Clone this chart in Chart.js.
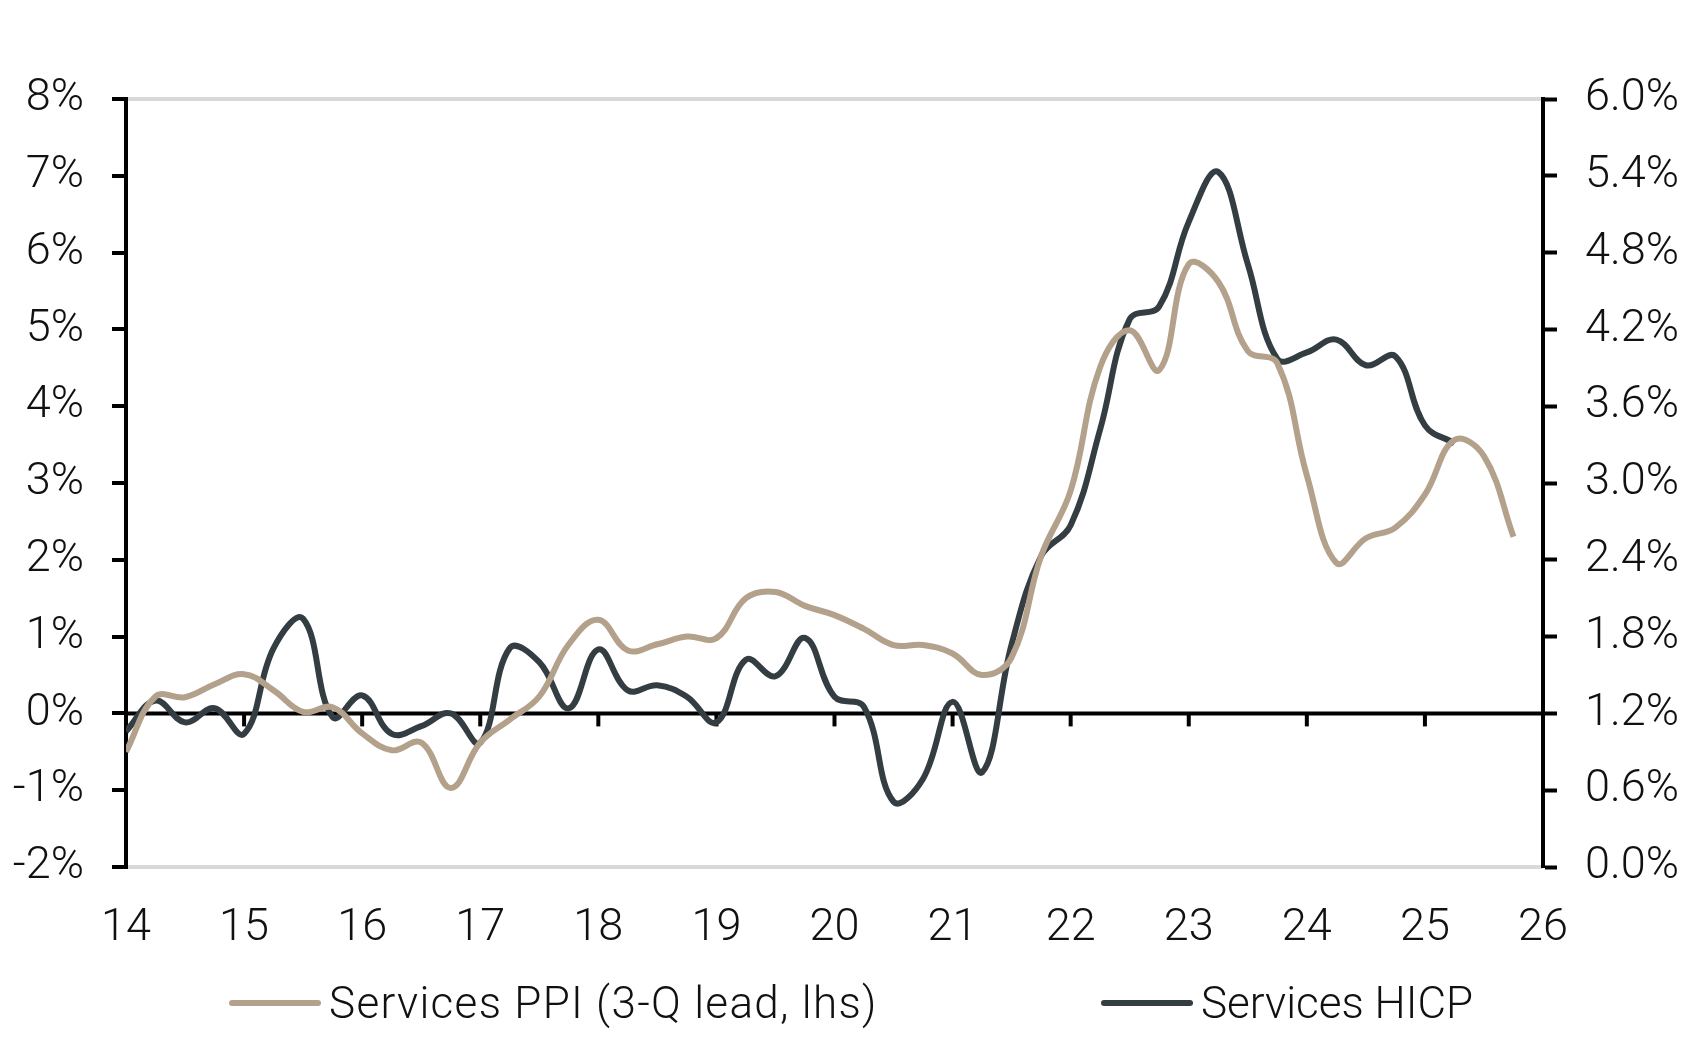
<!DOCTYPE html>
<html>
<head>
<meta charset="utf-8">
<script src="https://cdn.jsdelivr.net/npm/chart.js@4.4.1/dist/chart.umd.min.js"></script>
<style>
  body { margin: 0; background: #fff; }
  #wrap { position: relative; width: 1689px; height: 1039px; }
  .legend { position: absolute; top: 978px; height: 50px; display: flex; align-items: center;
            font-family: Roboto, sans-serif; font-weight: 300; font-size: 44px; color: #111; }
  .swatch { width: 92px; height: 6px; border-radius: 3px; margin-right: 8px; }
</style>
</head>
<body>
<div id="wrap">
  <canvas id="chart" width="1689" height="1039"></canvas>
  <div class="legend" style="left:229px; letter-spacing:1.3px"><span class="swatch" style="background:#b3a18b"></span>Services PPI (3-Q lead, lhs)</div>
  <div class="legend" style="left:1101px"><span class="swatch" style="background:#333d42"></span>Services HICP</div>
</div>
<script>
// quarterly, x in years (14 = 2014 Q1)
const quarters = [14.00, 14.25, 14.50, 14.75, 15.00, 15.25, 15.50, 15.75, 16.00, 16.25, 16.50, 16.75,
                  17.00, 17.25, 17.50, 17.75, 18.00, 18.25, 18.50, 18.75, 19.00, 19.25, 19.50, 19.75,
                  20.00, 20.25, 20.50, 20.75, 21.00, 21.25, 21.50, 21.75, 22.00, 22.25, 22.50, 22.75,
                  23.00, 23.25, 23.50, 23.75, 24.00, 24.25, 24.50, 24.75, 25.00, 25.25, 25.50, 25.75];

// services PPI, 3-quarter lead, lhs (%)
const ppi = [-0.50, 0.22, 0.21, 0.38, 0.51, 0.30, 0.02, 0.08, -0.26, -0.48, -0.38, -0.97,
             -0.38, -0.08, 0.22, 0.90, 1.22, 0.82, 0.90, 1.00, 0.98, 1.50, 1.58, 1.40,
             1.28, 1.10, 0.89, 0.89, 0.78, 0.50, 0.73, 2.05, 2.90, 4.51, 4.99, 4.47,
             5.85, 5.62, 4.72, 4.56, 3.10, 1.96, 2.28, 2.42, 2.85, 3.56, 3.35, 2.30];

// services HICP, rhs (%)
const hicp = [1.06, 1.30, 1.13, 1.24, 1.04, 1.71, 1.94, 1.17, 1.34, 1.04, 1.10, 1.20,
              0.97, 1.71, 1.60, 1.24, 1.70, 1.38, 1.42, 1.33, 1.13, 1.62, 1.49, 1.79,
              1.33, 1.25, 0.51, 0.69, 1.29, 0.74, 1.74, 2.43, 2.67, 3.42, 4.28, 4.38,
              5.04, 5.43, 4.71, 3.97, 4.02, 4.12, 3.92, 3.99, 3.45, 3.31];

const seriesNames = ['Services PPI (3-Q lead, lhs)', 'Services HICP'];

const FONT = { family: 'Roboto, sans-serif', size: 45, weight: 300 };

// zero line and downward year ticks on it
const zeroAxis = {
  id: 'zeroAxis',
  beforeDatasetsDraw(chart) {
    const { ctx, chartArea, scales } = chart;
    const y0 = scales.y.getPixelForValue(0);
    ctx.save();
    ctx.strokeStyle = '#000';
    ctx.lineWidth = 4;
    ctx.beginPath();
    ctx.moveTo(chartArea.left, y0);
    ctx.lineTo(chartArea.right, y0);
    ctx.stroke();
    scales.x.ticks.forEach(t => {
      const x = scales.x.getPixelForValue(t.value);
      ctx.beginPath();
      ctx.moveTo(x, y0);
      ctx.lineTo(x, y0 + 13);
      ctx.stroke();
    });
    ctx.restore();
  }
};

new Chart(document.getElementById('chart'), {
  type: 'line',
  data: {
    datasets: [
      {
        label: seriesNames[0],
        data: quarters.map((q, i) => ({ x: q, y: ppi[i] })),
        borderColor: '#b3a18b',
        borderWidth: 6,
        pointRadius: 0,
        tension: 0.4,
        yAxisID: 'y'
      },
      {
        label: seriesNames[1],
        data: hicp.map((v, i) => ({ x: quarters[i], y: v })),
        borderColor: '#333d42',
        borderWidth: 6,
        pointRadius: 0,
        tension: 0.4,
        yAxisID: 'y1'
      }
    ]
  },
  options: {
    responsive: false,
    animation: false,
    layout: { padding: { top: 99, bottom: 72, left: 0, right: 0 } },
    plugins: { legend: { display: false }, tooltip: { enabled: false } },
    scales: {
      x: {
        type: 'linear',
        min: 14, max: 26,
        ticks: { stepSize: 1, color: '#111', font: FONT, padding: 27, maxRotation: 0 },
        grid: { display: false },
        border: { display: false },
        afterFit: s => { s.height = 100; }
      },
      y: {
        position: 'left',
        min: -2, max: 8,
        ticks: { stepSize: 1, color: '#111', font: FONT, padding: 28, callback: v => v + '%' },
        grid: {
          color: c => (c.tick && (c.tick.value === 8 || c.tick.value === -2)) ? '#d9d9d9' : 'rgba(0,0,0,0)',
          lineWidth: 4,
          tickColor: '#000',
          tickLength: 14,
          tickWidth: 4
        },
        border: { display: true, color: '#000', width: 4 },
        afterFit: s => { s.width = 126; }
      },
      y1: {
        position: 'right',
        min: 0, max: 6,
        ticks: { stepSize: 0.6, color: '#111', font: FONT, padding: 28, callback: v => v.toFixed(1) + '%' },
        grid: { drawOnChartArea: false, tickColor: '#000', tickLength: 14, tickWidth: 4 },
        border: { display: true, color: '#000', width: 4 },
        afterFit: s => { s.width = 146; }
      }
    }
  },
  plugins: [zeroAxis]
});
</script>
</body>
</html>
